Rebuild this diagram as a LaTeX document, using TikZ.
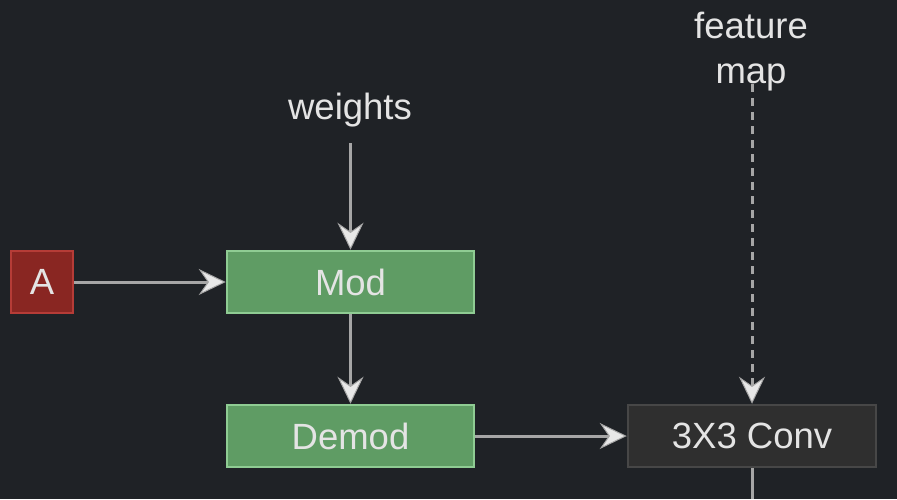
\documentclass[tikz,border=0pt]{standalone}
\usepackage{fontspec}
\setmainfont{Liberation Sans}
\usetikzlibrary{arrows.meta}

\definecolor{bgcol}{HTML}{1F2226}
\definecolor{txtcol}{HTML}{E4E4E4}
\definecolor{redfill}{HTML}{892622}
\definecolor{redline}{HTML}{B53C37}
\definecolor{greenfill}{HTML}{5F9C64}
\definecolor{greenline}{HTML}{8FCC93}
\definecolor{convfill}{HTML}{2F2F2F}
\definecolor{convline}{HTML}{474747}
\definecolor{wirecol}{HTML}{A6A6A6}
\definecolor{tipfill}{HTML}{E8E8E8}

\tikzset{
  every node/.style={text=txtcol,font=\fontsize{36.5}{45}\selectfont},
  box/.style={draw,line width=2.5pt,minimum height=62pt,inner sep=0pt},
  redbox/.style={box,fill=redfill,draw=redline,minimum width=62pt},
  greenbox/.style={box,fill=greenfill,draw=greenline,minimum width=247pt},
  convbox/.style={box,fill=convfill,draw=convline,minimum width=248pt},
  tag/.style={inner sep=0pt,align=center},
  wire/.style={line width=3pt,draw=wirecol,
    -{Stealth[length=27pt,width=26pt,inset=9pt,fill=tipfill,line width=1pt]}},
}

\begin{document}
\begin{tikzpicture}[x=1pt,y=-1pt]
  \fill[bgcol] (0,0) rectangle (897,499);
  \useasboundingbox (0,0) rectangle (897,499);

  \node[redbox] (a) at (42,282) {A};
  \node[greenbox] (mod) at (350.5,282) {Mod};
  \node[greenbox] (demod) at (350.5,436) {Demod};
  \node[convbox] (conv) at (752,436) {3X3 Conv};

  \node[tag] (weights) at (350,110) {weights};
  \node[tag] (fmap) at (751,52) {feature\\map};
  \coordinate (fmapend) at (752,84);
  \coordinate (wstart) at (350.5,143);
  \coordinate (out) at (752,499);

  \draw[wire] (wstart) -- (mod.north);
  \draw[wire] (a.east) -- (mod.west);
  \draw[wire] (mod.south) -- (demod.north);
  \draw[wire] (demod.east) -- (conv.west);
  \draw[wire,dashed,dash pattern=on 8pt off 6pt] (fmapend) -- (conv.north);
  \draw[line width=3pt,draw=wirecol] (conv.south) -- (out);
\end{tikzpicture}
\end{document}
